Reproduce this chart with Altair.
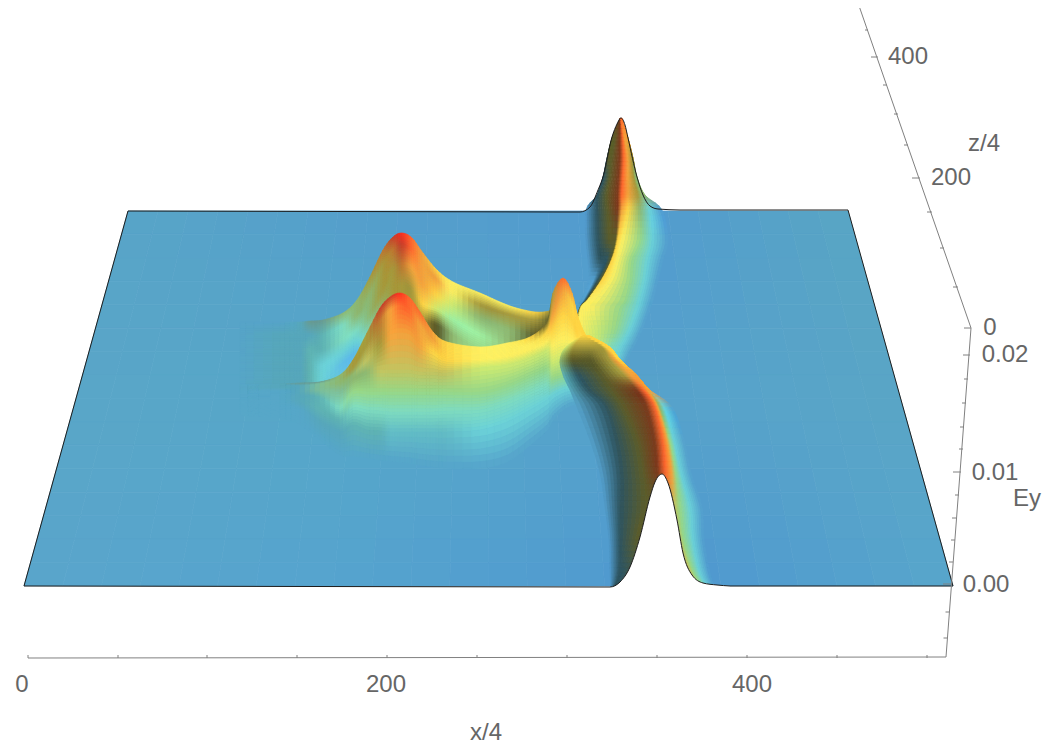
import altair as alt
import numpy as np

PAL = {
    "C": "#6CD2D8", "c": "#64BEC6", "A": "#7FDCC0", "a": "#A0F0A0", "G": "#98D888", "L": "#CFEA70", "Y": "#FFF060",
    "y": "#FFD545", "N": "#F5A33C", "n": "#C07830", "F": "#FF6A2E", "E": "#FF3020", "D": "#C8402A", "R": "#7C3A1C",
    "O": "#5C5C2A", "M": "#A89A3C", "m": "#C4C460", "T": "#2F5560", "K": "#8FB870", "H": "#60B4B4",
    "Q": "#6A9C92", "V": "#60BEE8", "h": "#58A8BC", "g": "#7FBF98",
}
# base sheet colours: rows at screen y, columns along the sheet's width
BASE_Y = [211, 400, 586]
BASE_LEFT = [128, 76, 24]
BASE_RIGHT = [848, 900, 953]
BASE_C = [["#58A5C8", "#559FCC", "#529BD0", "#59A6C4"],
          ["#5AA6C8", "#56A8C8", "#57A3CC", "#5AA6C6"],
          ["#5AA6CC", "#56A4CF", "#4F98D0", "#58A6CC"]]

# back crescent: rows in y, colour stops in x
BAND_Y = [118, 138, 158, 177, 195, 210, 240, 260, 280, 300, 308, 330, 350, 365, 372]
BAND_X = [
    [620.5, 620.6, 620.7, 620.8, 621, 621.2, 621.3, 621.4, 621.5],
    [612, 613, 615, 620, 623, 625, 627, 627.5, 628],
    [607, 608, 612, 620, 624, 628, 632, 632.5, 633],
    [603, 604, 610, 619, 623, 628, 634, 636, 637],
    [597, 598, 607, 618, 622, 628, 638, 642, 645],
    [586, 597, 608, 618, 622, 628, 640, 650, 662],
    [586, 598, 610, 616, 618, 622, 640, 652, 668],
    [588, 600, 607, 611, 612, 617, 632, 648, 663],
    [588, 594, 598, 601, 602, 610, 630, 645, 658],
    [581, 584, 586, 587, 588, 595, 625, 640, 653],
    [576, 579, 579.5, 580, 581, 590, 620, 638, 650],
    [570, 572, 574, 576, 578, 595, 615, 630, 642],
    [575, 577, 579, 581, 583, 595, 610, 620, 632],
    [590, 592, 594, 596, 598, 602, 610, 616, 624],
    [600, 602, 604, 606, 608, 610, 612, 616, 620],
]
BAND_C = ["RRRRFFFFF", "OOORFNNNN", "TOORFNMMM", "TTORFNMKK", "TTORFNMKK", "BTORNyKCB", "BTOOyYGCB",
          "BTTOyYGCB", "BBTOyYGCB", "BBTOYYGCB", "BBBOYYGCB", "BBBOYLGCB", "LLLLLLACB", "BBBBBCCCB", "BBBBBBBBB"]

# back ridge: columns in x, colour stops in y
BACK_X = [240, 280, 300, 310, 323, 343, 357, 370, 383, 393, 402, 412, 423, 437, 453, 480, 510, 535, 550]
BACK_Y = [
    [322, 335, 350, 365, 380, 395], [322, 335, 350, 365, 380, 395], [322, 335, 350, 365, 380, 395],
    [321, 335, 350, 365, 380, 395],
    [320, 335, 350, 365, 380, 395], [313, 325, 340, 352, 364, 395], [300, 315, 330, 342, 352, 395],
    [277, 295, 315, 335, 345, 395], [250, 265, 290, 310, 330, 395], [237, 250, 270, 290, 310, 395],
    [233, 245, 265, 285, 300, 395],
    [238, 250, 268, 290, 310, 395], [253, 265, 285, 305, 320, 395], [270, 280, 295, 310, 325, 395],
    [282, 292, 305, 320, 335, 395], [293, 305, 318, 335, 350, 395], [306, 315, 330, 345, 360, 395],
    [312, 320, 335, 350, 365, 395], [311, 320, 335, 350, 365, 395],
]
BACK_C = ["BBBBBB", "Bhhhhh", "hhhhhh", "QhHHHh", "QHHCCH", "KAACVC", "KKACVC", "MKKAAG", "nMMKGG", "DnMMMM", "EDnMMM", "FFNMMM",
          "NNNyMO", "yNyLOO", "YYLaKK", "YMKaGG", "YMKKKK", "yMOOOO", "MOOOOO"]

# front ridge: columns in x, colour stops in y
FRONT_X = [240, 280, 300, 320, 340, 353, 367, 380, 390, 400, 410, 420, 433, 447, 480, 507, 530, 547, 553, 563, 572, 578, 587, 600]
FRONT_Y = [
    [385, 388, 390, 392, 395, 400, 405, 415], [384, 386, 388, 391, 395, 400, 408, 418],
    [383, 386, 389, 392, 396, 402, 410, 425], [382, 384, 386, 390, 398, 410, 422, 440],
    [375, 379, 383, 392, 408, 420, 432, 455], [360, 368, 375, 380, 392, 408, 425, 456],
    [333, 345, 360, 372, 392, 410, 430, 458], [308, 322, 345, 370, 392, 411, 431, 460],
    [297, 310, 335, 370, 392, 412, 432, 461], [293, 305, 333, 370, 392, 412, 432, 462],
    [298, 311, 335, 370, 392, 412, 432, 463], [312, 325, 345, 372, 392, 412, 432, 465],
    [332, 340, 352, 372, 392, 412, 432, 467], [342, 350, 360, 373, 392, 411, 432, 468],
    [347, 353, 360, 368, 392, 410, 430, 468], [343, 350, 357, 365, 385, 402, 422, 462],
    [337, 345, 350, 358, 375, 392, 410, 445], [322, 332, 342, 350, 368, 385, 400, 430],
    [293, 315, 330, 345, 362, 378, 395, 420], [278, 292, 315, 340, 358, 375, 390, 410],
    [293, 305, 322, 342, 358, 372, 388, 405], [317, 325, 335, 348, 360, 372, 388, 405],
    [337, 341, 345, 352, 362, 372, 388, 405], [348, 352, 356, 360, 366, 372, 388, 405],
]
FRONT_C = ["BBBBBBBB", "hhhBBBBB", "QhhhhhBB", "QgggHHhB", "KKKgAHhB", "MMKKGAHB", "MMmKGAHB", "DnMmGAHB", "DNNmGAcB",
           "EFNmGAcB", "FFNmGAcB", "FNNmGAcB", "NNymGAcB", "yyymGAcB", "YYYLGACB", "YYYLGACB", "yYYLGACB", "OyYLGACB",
           "MNyYLGCB", "FNyYLGCB", "NyyYLGCB", "yyyYLGCB", "yyYYLGCB", "yyYYLGCB"]

# front crescent running to the near edge: rows in y, colour stops in x
DARK_Y = [336, 347, 360, 375, 390, 407, 440, 473, 507, 540, 573, 590]
DARK_X = [
    [582, 583, 584, 585, 586, 587, 588, 589, 590],
    [566, 574, 590, 602, 606, 608, 608.5, 609, 609.5],
    [560, 572, 592, 610, 616, 619, 619.5, 620, 620.5],
    [563, 578, 602, 624, 631, 635, 635.5, 636, 636.5],
    [570, 588, 612, 637, 644, 648, 648.5, 649, 649.5],
    [577, 605, 623, 647, 655, 658, 660, 664, 672],
    [590, 615, 637, 655, 663, 667, 670, 674, 684],
    [600, 620, 643, 658, 666, 672, 676, 681, 691],
    [605, 620, 645, 660, 670, 675, 680, 690, 702],
    [609, 620, 638, 655, 675, 680, 684, 693, 704],
    [610, 619, 623, 640, 688, 691, 694, 700, 710],
    [611, 613, 614, 640, 700, 703, 706, 710, 716],
]
DARK_C = ["yyyyyyyyy", "LMMMyyyyy", "KOOMNyyyy", "HTOMNNNNN", "hTORFNNNN", "BTORFNKCB", "BTORFNGCB", "BTORFNGCB",
          "BTOOMmGCB", "BTOOMmGCB", "BTTOMmGCB", "BTTOMmGCB"]

# silhouettes
BUMP_X = [560, 580, 590, 598, 603, 612, 617, 621, 625, 628, 637, 643, 650, 658, 680]
BUMP_Y = [212, 212, 207, 190, 177, 137, 124, 118, 125, 138, 177, 195, 206, 209, 210]
NOTCH_X = [600, 610, 620, 630, 640, 650, 655, 662, 668, 677, 683, 692, 703, 717, 730]
NOTCH_Y = [587, 587, 582, 567, 537, 497, 482, 474, 483, 520, 553, 575, 583, 585, 586]
EDGE_X = [24, 128, 560]
EDGE_Y = [586, 211, 212]
EDGE2_X = [680, 848, 953, 730]
EDGE2_Y = [210, 210, 586, 586]
EDGE3_X = [24, 600]
EDGE3_Y = [586, 587]

# axes: x1, y1, x2, y2
AXIS_LINES = [(28, 658, 946, 657), (946, 657, 971, 328), (971, 328, 857, 0)]
X_TICKS = [28, 118, 207, 297, 387, 477, 567, 657, 747, 837, 927]
EY_TICKS = [(947.5, 638), (949.5, 612), (951, 584, 943), (953, 562), (955, 540), (956, 518), (959, 495), (961, 472, 953),
            (963, 449), (964, 427), (966, 403), (968, 379), (970, 355, 963)]
Z_TICKS = [(971, 328, 964), (958, 287, 953), (944, 248, 940), (932, 212, 927), (920, 178, 912), (908, 145, 904),
           (898, 114, 894), (887, 85, 883), (878, 57, 871), (868, 30, 865)]
LABEL_X = [22, 386, 752, 486, 990, 1005, 995, 986, 1027, 908, 951, 984]
LABEL_Y = [685, 685, 685, 733, 328, 355, 473, 585, 499, 57, 178, 144]
LABEL_T = ["0", "200", "400", "x/4", "0", "0.02", "0.01", "0.00", "Ey", "400", "200", "z/4"]


def rgb(h):
    return np.array([int(h[i:i + 2], 16) for i in (1, 3, 5)], float)


def base_rgb(x, y):
    v = np.clip((y - 211) / (586 - 211), 0, 1) * 2
    i = min(int(v), 1)
    f = v - i
    l = BASE_LEFT[0] + (BASE_LEFT[2] - BASE_LEFT[0]) * v / 2
    r = BASE_RIGHT[0] + (BASE_RIGHT[2] - BASE_RIGHT[0]) * v / 2
    u = np.clip((x - l) / (r - l), 0, 1)
    us = [0, .33, .72, 1]
    c0 = [np.interp(u, us, [rgb(c)[k] for c in BASE_C[i]]) for k in range(3)]
    c1 = [np.interp(u, us, [rgb(c)[k] for c in BASE_C[i + 1]]) for k in range(3)]
    return (1 - f) * np.array(c0) + f * np.array(c1)


def smooth(a, s):
    n = len(a)
    out = []
    for i in range(n - 1):
        p0, p1, p2, p3 = a[max(i - 1, 0)], a[i], a[i + 1], a[min(i + 2, n - 1)]
        for t in np.arange(s) / s:
            out.append(0.5 * (2 * p1 + (p2 - p0) * t + (2 * p0 - 5 * p1 + 4 * p2 - p3) * t ** 2
                              + (3 * p1 - p0 - 3 * p2 + p3) * t ** 3))
    out.append(a[-1])
    return np.array(out)


def linear(a, s):
    m = a.shape[1]
    idx = np.linspace(0, m - 1, (m - 1) * s + 1)
    lo = np.minimum(idx.astype(int), m - 2)
    f = (idx - lo)
    if a.ndim == 3:
        f = f[None, :, None]
    else:
        f = f[None, :]
    return a[:, lo] * (1 - f) + a[:, lo + 1] * f


features = []


def patch(X, Y, C, su, sv):
    X, Y = np.array(X, float), np.array(Y, float)
    rgbs = np.zeros(X.shape + (3,))
    for i in range(X.shape[0]):
        for j in range(X.shape[1]):
            rgbs[i, j] = base_rgb(X[i, j], Y[i, j]) if C[i][j] == "B" else rgb(PAL[C[i][j]])
    xs = linear(smooth(X, su), sv)
    ys = linear(smooth(Y, su), sv)
    cs = np.clip(linear(smooth(rgbs, su), sv), 0, 255)
    for i in range(xs.shape[0] - 1):
        for j in range(xs.shape[1] - 1):
            ring = [(i, j), (i + 1, j), (i + 1, j + 1), (i, j + 1), (i, j)]
            c = (cs[i, j] + cs[i + 1, j + 1]) / 2
            features.append({"type": "Feature", "properties": {"c": "#%02x%02x%02x" % tuple(int(v) for v in c)},
                             "geometry": {"type": "Polygon", "coordinates": [
                                 [[round(float(xs[a, b]), 1), round(float(ys[a, b]), 1)] for a, b in ring]]}})


# base sheet
by = np.linspace(211, 586, 17)
bu = np.linspace(0, 1, 25)
bl = np.interp(by, [211, 586], [128, 24])
br = np.interp(by, [211, 586], [848, 953])
bX = np.array([l + (r - l) * bu for l, r in zip(bl, br)])
bY = np.array([[y] * len(bu) for y in by])
patch(bX, bY, [["B"] * len(bu)] * len(by), 1, 1)

bandY = [[y] * len(BAND_X[0]) for y in BAND_Y]
patch(BAND_X, bandY, BAND_C, 5, 6)
patch([[x] * len(BACK_Y[0]) for x in BACK_X], BACK_Y, BACK_C, 5, 7)
patch([[x] * len(FRONT_Y[0]) for x in FRONT_X], FRONT_Y, FRONT_C, 4, 6)
patch(DARK_X, [[y] * len(DARK_X[0]) for y in DARK_Y], DARK_C, 6, 6)

SX = alt.Scale(domain=[8, 1042], range=[0, 1034], nice=False, zero=False)
SY = alt.Scale(domain=[8, 747], range=[0, 739], nice=False, zero=False)
X = lambda f: alt.X(f, type="quantitative", scale=SX, axis=None)
Y = lambda f: alt.Y(f, type="quantitative", scale=SY, axis=None)

mesh = alt.Chart(alt.InlineData(values={"type": "FeatureCollection", "features": features},
                                format=alt.DataFormat(property="features", type="json"))).mark_geoshape(
    strokeWidth=0.7).encode(
    fill=alt.Fill("properties.c:N", scale=None), stroke=alt.Stroke("properties.c:N", scale=None)
).project(type="identity", scale=1, translate=[-8, -8])

notch = alt.Chart(alt.Data(values=[{"x": a, "y": b, "y2": 600} for a, b in zip(NOTCH_X, NOTCH_Y)])).mark_area(
    color="white", interpolate="monotone").encode(x=X("x"), y=Y("y"), y2="y2:Q")
under = alt.Chart(alt.Data(values=[{"x": a, "y": b, "y2": 600} for a, b in [(24, 586.5), (600, 587.5), (730, 586.5), (953, 586.5)]])).mark_area(
    color="white").encode(x=X("x"), y=Y("y"), y2="y2:Q")


def path(xs, ys, interp):
    return alt.Chart(alt.Data(values=[{"x": a, "y": b, "o": i} for i, (a, b) in enumerate(zip(xs, ys))])).mark_line(
        color="#1c1c1c", strokeWidth=1, interpolate=interp).encode(x=X("x"), y=Y("y"), order="o:Q")


segs = [{"x": a, "y": b, "x2": c, "y2": d} for a, b, c, d in AXIS_LINES]
segs += [{"x": x, "y": 658, "x2": x, "y2": 655} for x in X_TICKS]
for t in EY_TICKS:
    x0, y0 = t[0], t[1]
    x1 = t[2] if len(t) > 2 else x0 - 4
    segs.append({"x": x0, "y": y0, "x2": x1, "y2": y0})
for t in Z_TICKS:
    segs.append({"x": t[0], "y": t[1], "x2": t[2], "y2": t[1]})
rules = alt.Chart(alt.Data(values=segs)).mark_rule(color="#808080", strokeWidth=1).encode(
    x=X("x"), y=Y("y"), x2="x2:Q", y2="y2:Q")

text = alt.Chart(alt.Data(values=[{"x": a, "y": b, "t": c} for a, b, c in zip(LABEL_X, LABEL_Y, LABEL_T)])).mark_text(
    font="Liberation Sans", fontSize=24, color="#666666", align="center", baseline="middle").encode(
    x=X("x"), y=Y("y"), text="t:N")

chart = alt.layer(
    mesh, under, notch,
    path(BUMP_X, BUMP_Y, "monotone"), path(NOTCH_X, NOTCH_Y, "monotone"),
    path(EDGE_X, EDGE_Y, "linear"), path(EDGE2_X, EDGE2_Y, "linear"), path(EDGE3_X, EDGE3_Y, "linear"),
    rules, text,
).properties(width=1034, height=739, padding=0, autosize=alt.AutoSizeParams(type="none")).configure_view(stroke=None)

chart.save("out.html", embed_options={"renderer": "svg", "actions": False})
